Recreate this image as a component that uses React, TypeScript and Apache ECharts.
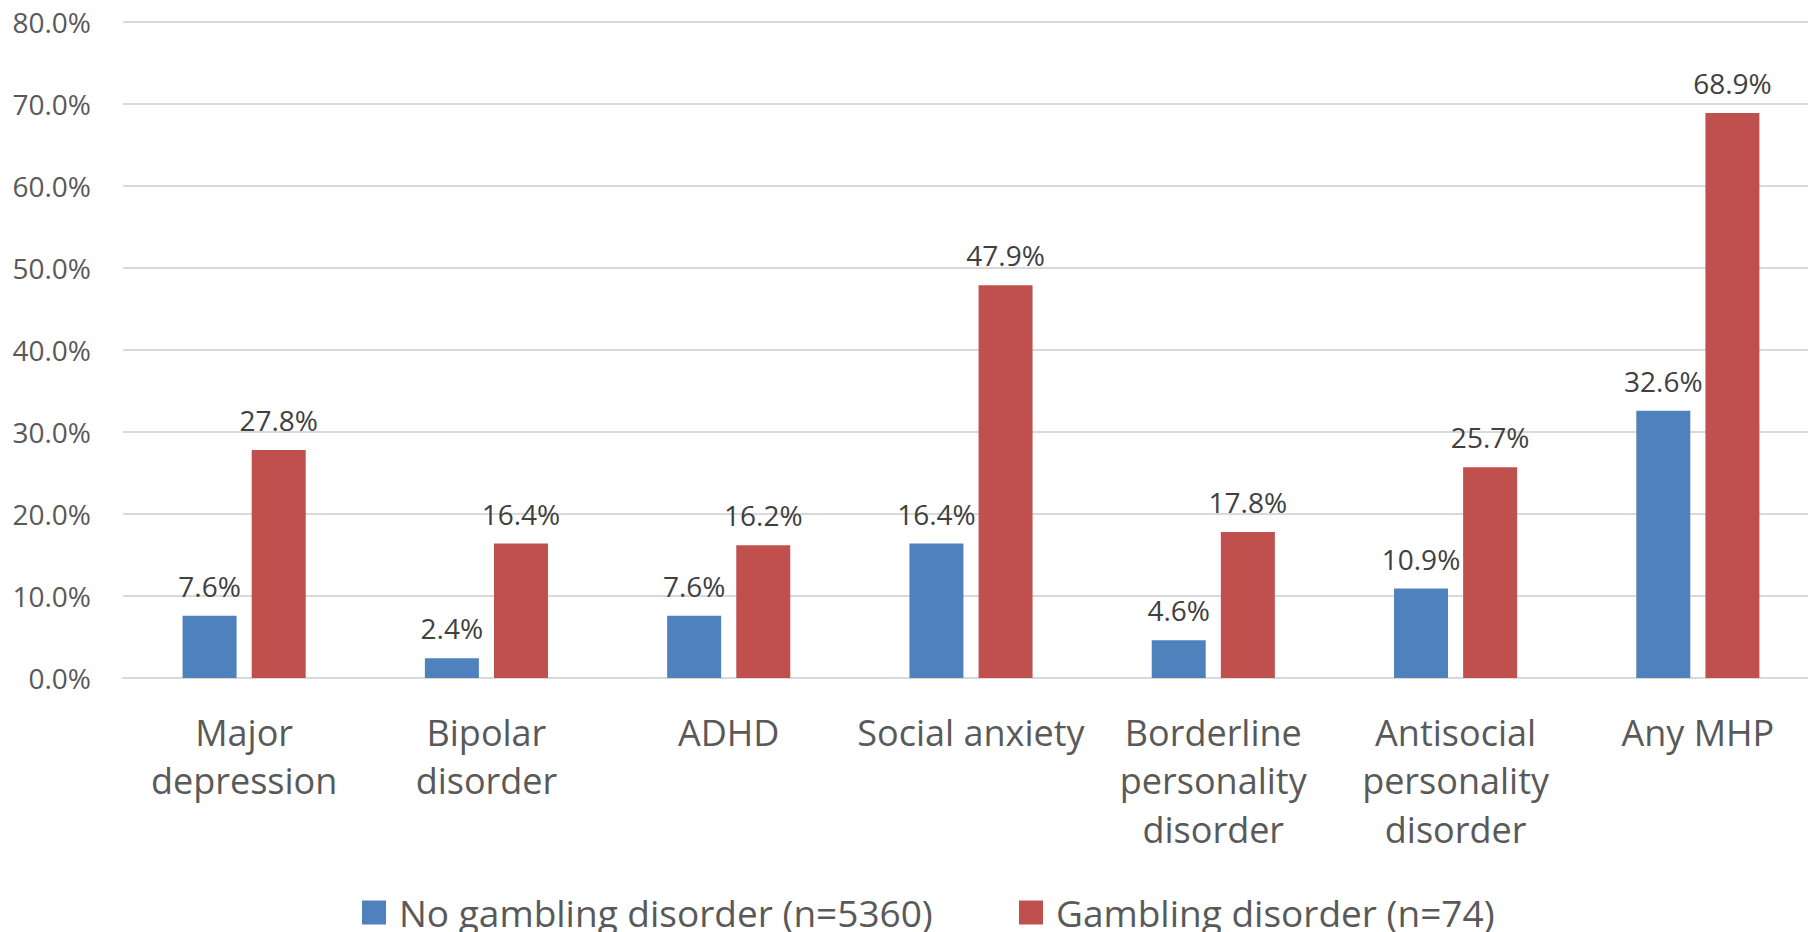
import React, { useEffect, useRef } from "react";
import * as echarts from "echarts";

const categories = [
  "Major\ndepression",
  "Bipolar\ndisorder",
  "ADHD",
  "Social anxiety",
  "Borderline\npersonality\ndisorder",
  "Antisocial\npersonality\ndisorder",
  "Any MHP",
];
const noGamblingValues = [7.6, 2.4, 7.6, 16.4, 4.6, 10.9, 32.6];
const gamblingValues = [27.8, 16.4, 16.2, 47.9, 17.8, 25.7, 68.9];
const seriesNames = ["No gambling disorder (n=5360)", "Gambling disorder (n=74)"];

const FONT = "'Open Sans', 'Noto Sans', sans-serif";
const pct = (v: number) => v.toFixed(1) + "%";

export default function App() {
  const ref = useRef<HTMLDivElement>(null);

  useEffect(() => {
    if (!ref.current) return;
    const chart = echarts.init(ref.current, undefined, { renderer: "svg" });

    const barLabel = {
      show: true,
      position: "top" as const,
      distance: 16,
      fontFamily: FONT,
      fontSize: 28,
      color: "#404040",
      formatter: (p: any) => pct(p.value),
    };

    const legendBase = {
      top: 894,
      padding: 0,
      icon: "rect",
      itemWidth: 24,
      itemHeight: 24,
      textStyle: {
        fontFamily: FONT,
        fontSize: 37,
        color: "#595959",
        padding: [0, 0, 0, 8],
      },
    };

    chart.setOption({
      animation: false,
      backgroundColor: "#ffffff",
      grid: {
        left: 123,
        top: 22,
        width: 1696,
        height: 656,
        containLabel: false,
        outerBoundsMode: "none",
      },
      legend: [
        { ...legendBase, left: 362, data: [seriesNames[0]] },
        { ...legendBase, left: 1019, data: [seriesNames[1]] },
      ],
      xAxis: {
        type: "category",
        data: categories,
        axisTick: { show: false },
        axisLine: { lineStyle: { color: "#D9D9D9", width: 2 } },
        axisLabel: {
          interval: 0,
          margin: 30,
          fontFamily: FONT,
          fontSize: 36,
          lineHeight: 48.5,
          color: "#595959",
        },
      },
      yAxis: {
        type: "value",
        min: 0,
        max: 80,
        interval: 10,
        axisLine: { show: false },
        axisTick: { show: false },
        splitLine: { lineStyle: { color: "#D9D9D9", width: 2 } },
        axisLabel: {
          margin: 32,
          fontFamily: FONT,
          fontSize: 28,
          color: "#595959",
          formatter: (v: number) => pct(v),
        },
      },
      series: [
        {
          name: seriesNames[0],
          type: "bar",
          data: noGamblingValues,
          barWidth: 54,
          barGap: "28%",
          itemStyle: { color: "#4F81BD" },
          label: barLabel,
        },
        {
          name: seriesNames[1],
          type: "bar",
          data: gamblingValues,
          barWidth: 54,
          barGap: "28%",
          itemStyle: { color: "#C0504D" },
          label: barLabel,
        },
      ],
    });

    return () => chart.dispose();
  }, []);

  return (
    <div
      ref={ref}
      style={{ position: "fixed", left: 0, top: 0, width: 1808, height: 932 }}
    />
  );
}
